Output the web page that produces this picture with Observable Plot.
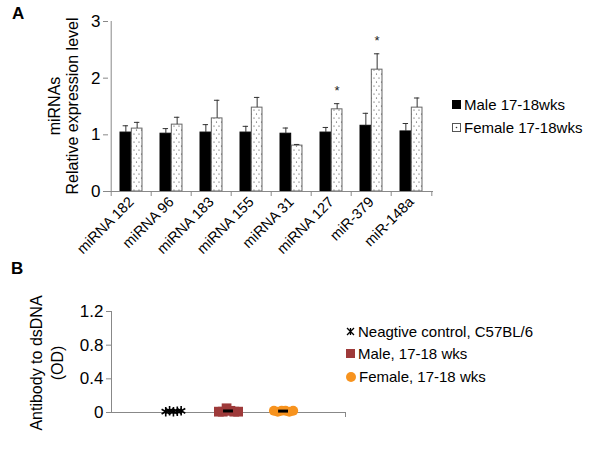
<!DOCTYPE html>
<html><head><meta charset="utf-8">
<script src="https://cdn.jsdelivr.net/npm/d3@7"></script>
<script src="https://cdn.jsdelivr.net/npm/@observablehq/plot@0.6"></script>
<style>
body{margin:0;background:#fff;font-family:"Liberation Sans",Arial,sans-serif;}
#wrap{position:relative;width:600px;height:449px;overflow:hidden;background:#fff;}
#wrap svg{position:absolute;left:0;font-family:"Liberation Sans",Arial,sans-serif;}
.panel{position:absolute;font-weight:bold;font-size:17px;line-height:1;}
.vlab{position:absolute;font-size:16px;line-height:1;white-space:nowrap;transform:translate(-50%,-50%) rotate(-90deg);}
.leg{position:absolute;font-size:15px;line-height:1;display:flex;align-items:center;white-space:nowrap;}
.leg svg{position:static !important;margin-right:3px;}
</style></head><body><div id="wrap"></div>
<script>
// ---------- Panel A data ----------
const categories = ["miRNA 182","miRNA 96","miRNA 183","miRNA 155","miRNA 31","miRNA 127","miR-379","miR-148a"];
const maleMean   = [1.04, 1.02, 1.04, 1.04, 1.02, 1.04, 1.16, 1.06];
const maleErr    = [0.12, 0.09, 0.14, 0.11, 0.10, 0.09, 0.22, 0.14];
const femaleMean = [1.11, 1.18, 1.29, 1.48, 0.81, 1.45, 2.15, 1.48];
const femaleErr  = [0.11, 0.13, 0.32, 0.18, 0.02, 0.10, 0.28, 0.17];
const significant = ["miRNA 127","miR-379"];
const seriesA = ["Male 17-18wks","Female 17-18wks"];
const yTicksA = [0,1,2,3];

// ---------- Panel B data ----------
const groupsB = ["Neagtive control, C57BL/6","Male, 17-18 wks","Female, 17-18 wks"];
const negValues    = [0.01, 0.02, 0.01, 0.015, 0.02];
const maleValues   = [0.01, 0.01, 0.05, 0.02, 0.01, 0.01];
const femaleValues = [0.02, 0.01, 0.02, 0.02, 0.01, 0.02];
const yTicksB = [0, 0.4, 0.8, 1.2];

const wrap = document.getElementById("wrap");

// ---------- Panel A ----------
const WA = 600, HA = 258, mLA = 108, mRA = 167, mTA = 21, mBA = HA - 191;
const bw = (WA - mLA - mRA) / categories.length;
const barW = 11.3, padOut = (bw - 2 * barW) / 2, capHalf = 3;
const rowsM = categories.map((c, i) => ({cat: c, mean: maleMean[i], err: maleErr[i]}));
const rowsF = categories.map((c, i) => ({cat: c, mean: femaleMean[i], err: femaleErr[i]}));

const chartA = Plot.plot({
  width: WA, height: HA,
  marginLeft: mLA, marginRight: mRA, marginTop: mTA, marginBottom: mBA,
  x: {type: "band", domain: categories, padding: 0, axis: null},
  y: {domain: [0, 3], axis: null},
  marks: [
    Plot.barY(rowsM, {x: "cat", y: "mean", fill: "black", stroke: "black", strokeWidth: 1,
      insetLeft: padOut, insetRight: bw - padOut - barW}),
    Plot.barY(rowsF, {x: "cat", y: "mean", fill: "url(#dotsA)", stroke: "#666", strokeWidth: 1,
      insetLeft: padOut + barW, insetRight: padOut}),
    Plot.ruleX(rowsM, {x: "cat", y1: "mean", y2: d => d.mean + d.err, dx: -barW / 2, stroke: "#333"}),
    Plot.ruleX(rowsF, {x: "cat", y1: "mean", y2: d => d.mean + d.err, dx: barW / 2, stroke: "#333"}),
    Plot.tickY(rowsM, {x: "cat", y: d => d.mean + d.err, dx: -barW / 2, stroke: "#333",
      insetLeft: bw / 2 - capHalf, insetRight: bw / 2 - capHalf}),
    Plot.tickY(rowsF, {x: "cat", y: d => d.mean + d.err, dx: barW / 2, stroke: "#333",
      insetLeft: bw / 2 - capHalf, insetRight: bw / 2 - capHalf}),
    Plot.text(rowsF.filter(d => significant.includes(d.cat)), {x: "cat", y: d => d.mean + d.err,
      dx: barW / 2, dy: -13, text: () => "*", fontSize: 13, fill: "#222"}),
    Plot.ruleY([0], {stroke: "#888"}),
    Plot.ruleX([categories[0]], {dx: -bw / 2, stroke: "#888"}),
    Plot.axisY({ticks: yTicksA, tickFormat: d => String(d), tickSize: 5, tickPadding: 3, fontSize: 17, stroke: "#888", fill: "black", label: null}),
    Plot.axisX({tickSize: 5, dx: -bw / 2, tickFormat: () => "", stroke: "#888", label: null}),
    Plot.axisX({ticks: [categories[categories.length - 1]], tickSize: 5, dx: bw / 2, tickFormat: () => "", stroke: "#888", label: null}),
    Plot.axisX({tickSize: 0, tickPadding: 8, tickRotate: -45, fontSize: 14.5, fill: "black", label: null})
  ]
});
chartA.style.top = "0px";
{
  const defs = d3.select(chartA).insert("defs", ":first-child");
  const p = defs.append("pattern").attr("id", "dotsA").attr("patternUnits", "userSpaceOnUse")
    .attr("width", 5).attr("height", 8);
  p.append("rect").attr("width", 5).attr("height", 8).attr("fill", "white");
  p.append("circle").attr("cx", 1.5).attr("cy", 2).attr("r", 0.6).attr("fill", "#333");
  p.append("circle").attr("cx", 4).attr("cy", 6).attr("r", 0.6).attr("fill", "#333");
}
wrap.appendChild(chartA);

// ---------- Panel B ----------
const WB = 600, topB = 258, HB = 449 - topB, mLB = 111, mRB = 600 - 345, mTB = 311 - topB, mBB = 449 - 412;
const xDomB = [-1.125, 3.125];
const step = 0.07;
const spread = (vals, g) => vals.map((v, i) => ({g, x: g + (i - (vals.length - 1) / 2) * step, y: v}));
const negRows = spread(negValues, 0);
const maleRows = spread(maleValues, 1);
const femaleRows = spread(femaleValues, 2);
const meanRows = [{g: 1, y: d3.mean(maleValues)}, {g: 2, y: d3.mean(femaleValues)}];
const meanHalf = 0.09;

const chartB = Plot.plot({
  width: WB, height: HB,
  marginLeft: mLB, marginRight: mRB, marginTop: mTB, marginBottom: mBB,
  x: {domain: xDomB, axis: null},
  y: {domain: [0, 1.2], axis: null},
  marks: [
    Plot.ruleY([0], {stroke: "#888"}),
    Plot.ruleX([xDomB[0]], {stroke: "#888"}),
    Plot.axisY({ticks: yTicksB, tickFormat: d => String(d), tickSize: 5, tickPadding: 3, fontSize: 17, stroke: "#888", fill: "black", label: null}),
    Plot.axisX({ticks: [xDomB[1]], tickSize: 5, tickFormat: () => "", stroke: "#888", label: null}),
    Plot.dot(negRows, {x: "x", y: "y", symbol: "asterisk", stroke: "black", r: 4.5, strokeWidth: 1.6}),
    Plot.dot(maleRows, {x: "x", y: "y", symbol: "square", fill: "#9e3a3a", r: 5.5}),
    Plot.dot(femaleRows, {x: "x", y: "y", symbol: "circle", fill: "#f7931e", r: 5}),
    Plot.ruleY(meanRows, {y: "y", x1: d => d.g - meanHalf, x2: d => d.g + meanHalf, stroke: "black", strokeWidth: 3})
  ]
});
chartB.style.top = topB + "px";
wrap.appendChild(chartB);

// ---------- HTML text: panel labels, axis titles, legends ----------
function add(html, cls, style) {
  const d = document.createElement("div");
  d.className = cls; d.innerHTML = html; Object.assign(d.style, style); wrap.appendChild(d);
  return d;
}
add("A", "panel", {left: "12px", top: "5px"});
add("B", "panel", {left: "11px", top: "260px"});
add("miRNAs", "vlab", {left: "55px", top: "106px"});
add("Relative expression level", "vlab", {left: "73px", top: "106px"});
add("Antibody to dsDNA", "vlab", {left: "37px", top: "363px"});
add("(OD)", "vlab", {left: "58px", top: "363px"});

const legAIcons = [
  '<svg width="9" height="9"><rect x="0.5" y="0.5" width="8" height="8" fill="black" stroke="black"/></svg>',
  '<svg width="9" height="9"><rect x="0.5" y="0.5" width="8" height="8" fill="white" stroke="#555"/><circle cx="4.5" cy="4.5" r="0.8" fill="#333"/></svg>'
];
seriesA.forEach((s, i) => add(legAIcons[i] + "<span>" + s + "</span>", "leg", {left: "452px", top: (97 + i * 23) + "px"}));

const legBIcons = [
  '<svg width="9" height="9"><path d="M1,1L8,8M8,1L1,8M4.5,1V8" stroke="black" stroke-width="1.3"/></svg>',
  '<svg width="9" height="9"><rect width="9" height="9" fill="#9e3a3a"/></svg>',
  '<svg width="10" height="10"><circle cx="5" cy="5" r="5" fill="#f7931e"/></svg>'
];
groupsB.forEach((s, i) => add(legBIcons[i] + "<span>" + s + "</span>", "leg", {left: "346px", top: ([324, 346, 369][i]) + "px"}));
</script></body></html>
